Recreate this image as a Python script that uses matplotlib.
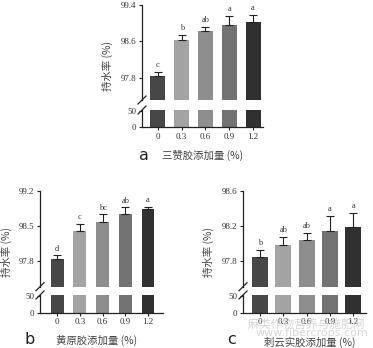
import numpy as np
import matplotlib
matplotlib.use("Agg")
import matplotlib.pyplot as plt

plt.rcParams['font.family'] = ['Noto Sans CJK SC', 'DejaVu Sans']

# doses and bar colours (same for all three panels)
doses = ["0", "0.3", "0.6", "0.9", "1.2"]
bar_colors = ["#474747", "#a3a3a3", "#8e8e8e", "#737373", "#303030"]

# panel a: 三赞胶
a_means = [97.83, 98.64, 98.82, 98.97, 99.03]
a_errs = [0.10, 0.10, 0.09, 0.19, 0.15]
a_letters = ["c", "b", "ab", "a", "a"]
a_ticks = [97.8, 98.6, 99.4]

# panel b: 黄原胶
b_means = [97.84, 98.40, 98.59, 98.73, 98.83]
b_errs = [0.08, 0.15, 0.14, 0.14, 0.05]
b_letters = ["d", "c", "bc", "ab", "a"]
b_ticks = [97.8, 98.5, 99.2]

# panel c: 刺云实胶
c_means = [97.845, 97.985, 98.04, 98.14, 98.19]
c_errs = [0.085, 0.09, 0.085, 0.17, 0.16]
c_letters = ["b", "ab", "ab", "a", "a"]
c_ticks = [97.8, 98.2, 98.6]

W, H = 373, 348
fig = plt.figure(figsize=(W / 100, H / 100), dpi=100)


def box(x0, y0, x1, y1):
    return [x0 / W, 1 - y1 / H, (x1 - x0) / W, (y1 - y0) / H]


serif = "Liberation Serif"
tcol = "#333333"


def panel(x0, x1, ytop, ybrk1, ybrk2, ybot, xlim, width, ylim, ticks,
          means, errs, letters, xlabel, tag, tag_xy, xlabel_xy, ylabel_xy):
    x = np.arange(len(doses))
    up = fig.add_axes(box(x0, ytop, x1, ybrk1))
    lo = fig.add_axes(box(x0, ybrk2, x1, ybot))

    up.bar(x, means, width=width, color=bar_colors, zorder=2)
    up.errorbar(x, means, yerr=[np.zeros(len(x)), errs], fmt="none",
                ecolor="#222222", elinewidth=0.8, capsize=2.8, capthick=0.8, zorder=3)
    for xi, m, e, lab in zip(x, means, errs, letters):
        up.annotate(lab, (xi, m + e), xytext=(0, 2), textcoords="offset points",
                    ha="center", va="bottom", fontsize=6, family=serif, color=tcol)
    up.set_xlim(*xlim)
    up.set_ylim(*ylim)
    up.set_yticks(ticks)
    up.set_yticklabels([f"{t:.1f}" for t in ticks])
    up.set_xticks([])
    for s in ["top", "right", "bottom"]:
        up.spines[s].set_visible(False)

    lo.bar(x, [60] * len(x), width=width, color=bar_colors, zorder=2)
    lo.set_xlim(*xlim)
    lo.set_ylim(0, 52)
    lo.set_yticks([0, 50])
    lo.set_xticks(x)
    lo.set_xticklabels(doses)
    for s in ["top", "right"]:
        lo.spines[s].set_visible(False)

    for ax in (up, lo):
        ax.spines["left"].set_linewidth(0.9)
        ax.spines["bottom"].set_linewidth(0.9)
        ax.spines["left"].set_color("#222222")
        ax.spines["bottom"].set_color("#222222")
        ax.tick_params(length=2.5, width=0.8, pad=1.5, labelsize=6.5,
                       colors="#222222", labelcolor=tcol)
        for t in ax.get_xticklabels() + ax.get_yticklabels():
            t.set_family(serif)

    # break marks on the y axis
    d = 4
    for ax, yy in ((up, 0), (lo, 1)):
        p = ax.transAxes.transform((0, yy))
        fig.lines.append(plt.Line2D([p[0] - d, p[0] + d], [p[1] - d, p[1] + d],
                                    transform=None, color="#222222", lw=0.9))

    fig.text(xlabel_xy[0] / W, 1 - xlabel_xy[1] / H, xlabel, ha="center", va="center",
             fontsize=7.5, color="#444444")
    fig.text(tag_xy[0] / W, 1 - tag_xy[1] / H, tag, ha="center", va="center",
             fontsize=11.5, color="#222222", family="DejaVu Sans")
    fig.text(ylabel_xy[0] / W, 1 - ylabel_xy[1] / H, "持水率 (%)", ha="center",
             va="center", rotation=90, fontsize=7.5, color="#444444")


panel(142, 263, 5, 100, 110, 127, (-0.67, 4.42), 0.63, (97.31, 99.4), a_ticks,
      a_means, a_errs, a_letters, "三赞胶添加量 (%)", "a", (144, 155), (203, 155), (107, 66))
panel(40, 163, 190.7, 286.7, 295, 312.7, (-0.75, 4.66), 0.57, (97.30, 99.2), b_ticks,
      b_means, b_errs, b_letters, "黄原胶添加量 (%)", "b", (30, 339), (97, 340), (6, 252))
panel(243, 366, 190.7, 286.7, 295, 312.7, (-0.73, 4.55), 0.69, (97.51, 98.6), c_ticks,
      c_means, c_errs, c_letters, "刺云实胶添加量 (%)", "c", (232, 339), (310, 342), (208, 252))

# faint watermark
fig.text(307 / W, 1 - 324 / H, "麻类作物营养与施肥网", ha="center", va="center",
         fontsize=8.5, color="#cccccc", alpha=0.8)
fig.text(312 / W, 1 - 333 / H, "www.fibercrops.com", ha="center", va="center",
         fontsize=8, color="#cccccc", alpha=0.8, family="DejaVu Sans")

fig.savefig("out.png", dpi=100)
